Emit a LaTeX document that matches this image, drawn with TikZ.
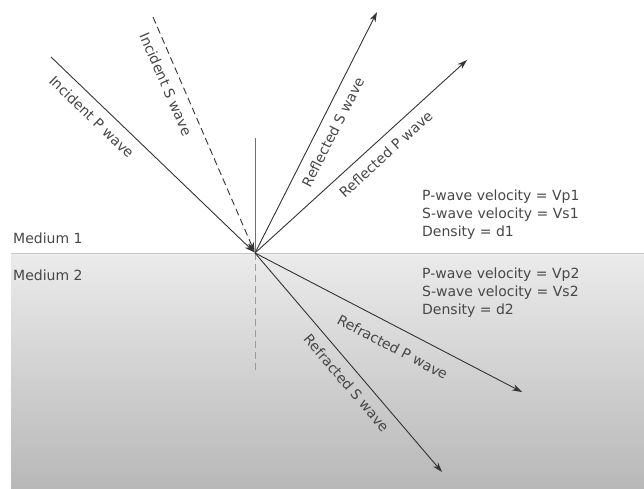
\documentclass[tikz,border=0pt]{standalone}
\usepackage{fontspec}
\setmainfont{DejaVu Sans}
\usetikzlibrary{arrows.meta}
\definecolor{raygray}{HTML}{333333}
\definecolor{textgray}{HTML}{474747}
\definecolor{normalgray}{HTML}{707070}
\definecolor{mediumtop}{HTML}{EBEBEB}
\definecolor{mediumbot}{HTML}{B8B8B8}
\tikzset{
    ray/.style={raygray, line width=0.9pt},
    raylabel/.style={textgray, sloped, below=8pt, inner sep=1pt},
    medium/.style={textgray, anchor=west, inner sep=0pt},
    props/.style={textgray, anchor=west, align=left, inner sep=0pt}
}
\begin{document}
\begin{tikzpicture}[x=1pt, y=1pt, >={Stealth[length=10pt, width=6.5pt]},
        font=\fontsize{14}{18}\selectfont]
        \useasboundingbox (0,0) rectangle (644,488);

        % lower medium
        \shade[top color=mediumtop, bottom color=mediumbot] (11,0) rectangle (644,235);
        \draw[mediumtop!85!black, line width=0.6pt] (11,235) -- (644,235);

        \coordinate (O) at (255,235);
        \coordinate (n_top) at (255,350);
        \coordinate (n_bot) at (255,118);
        \coordinate (incP_tail) at (51,431);
        \coordinate (incS_tail) at (153,471);
        \coordinate (reflS_tip) at (377,476);
        \coordinate (reflP_tip) at (467,428);
        \coordinate (refrP_tip) at (522,96);
        \coordinate (refrS_tip) at (442,16);

        % normal
        \draw[normalgray, line width=1pt] (O) -- (n_top);
        \draw[normalgray!70, line width=1pt, dash pattern=on 7pt off 4pt] (O) -- (n_bot);

        % incident waves
        \draw[ray, ->, shorten >=1pt] (incP_tail) -- (O)
            node[raylabel, pos=0.25] (l_incP) {Incident P wave};
        \draw[ray, ->, shorten >=1pt, dash pattern=on 7pt off 4pt] (incS_tail) -- (O)
            node[raylabel, pos=0.26] (l_incS) {Incident S wave};

        % reflected waves
        \draw[ray, ->] (O) -- (reflS_tip)
            node[raylabel, pos=0.53] (l_reflS) {Reflected S wave};
        \draw[ray, ->] (O) -- (reflP_tip)
            node[raylabel, pos=0.57] (l_reflP) {Reflected P wave};

        % refracted waves
        \draw[ray, ->] (O) -- (refrP_tip)
            node[raylabel, pos=0.55, below=5pt] (l_refrP) {Refracted P wave};
        \draw[ray, ->] (O) -- (refrS_tip)
            node[raylabel, pos=0.55] (l_refrS) {Refracted S wave};

        \node[medium] (med1) at (13,250) {Medium 1};
        \node[medium] (med2) at (13,213) {Medium 2};

        \node[props] (props1) at (422,273)
            {P-wave velocity = Vp1\\S-wave velocity = Vs1\\Density = d1};
        \node[props] (props2) at (422,195)
            {P-wave velocity = Vp2\\S-wave velocity = Vs2\\Density = d2};

    \end{tikzpicture}
\end{document}
